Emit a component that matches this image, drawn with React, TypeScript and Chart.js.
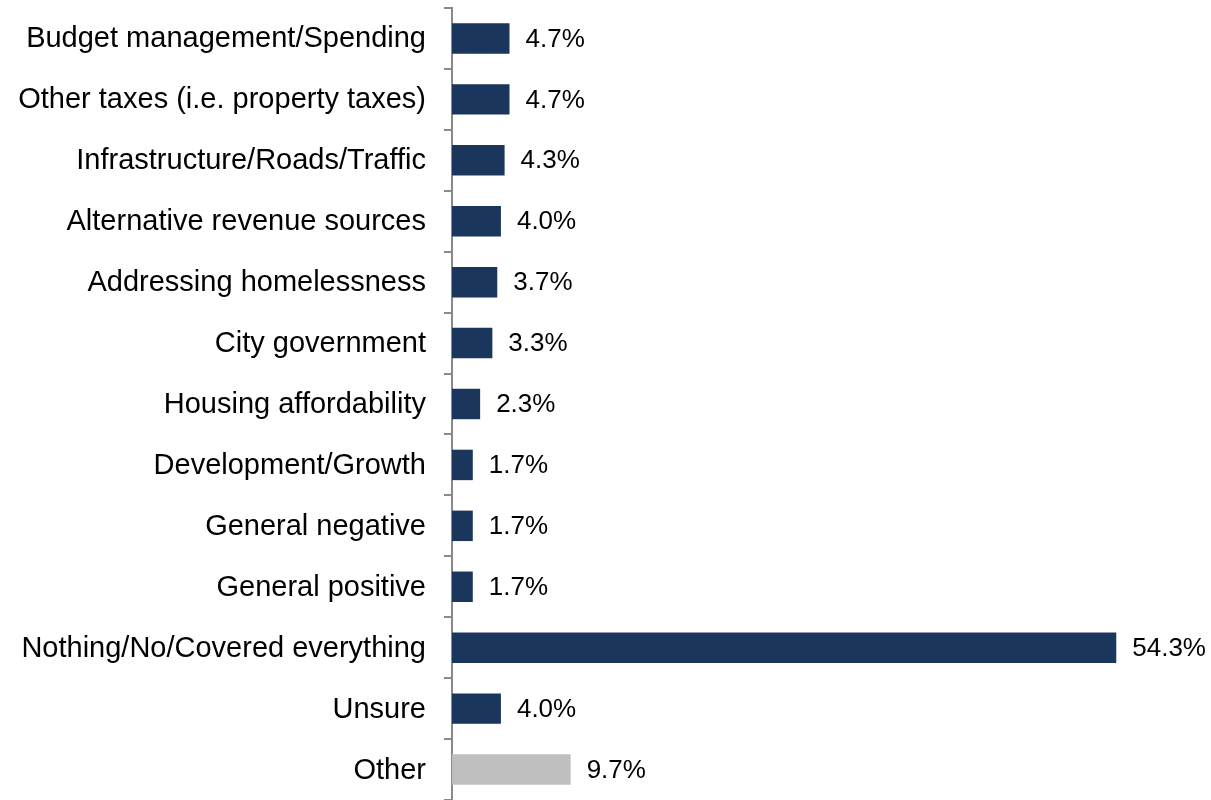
import React, { useEffect, useRef } from "react";
import { Chart, registerables } from "chart.js";

Chart.register(...registerables);

const categories = [
  "Budget management/Spending",
  "Other taxes (i.e. property taxes)",
  "Infrastructure/Roads/Traffic",
  "Alternative revenue sources",
  "Addressing homelessness",
  "City government",
  "Housing affordability",
  "Development/Growth",
  "General negative",
  "General positive",
  "Nothing/No/Covered everything",
  "Unsure",
  "Other",
];
const values = [4.7, 4.7, 4.3, 4.0, 3.7, 3.3, 2.3, 1.7, 1.7, 1.7, 54.3, 4.0, 9.7];
const barColors = [
  "#1B365D", "#1B365D", "#1B365D", "#1B365D", "#1B365D", "#1B365D", "#1B365D",
  "#1B365D", "#1B365D", "#1B365D", "#1B365D", "#1B365D", "#BFBFBF",
];

const FONT = "'Liberation Sans', Arial, sans-serif";

const valueLabels = {
  id: "valueLabels",
  afterDatasetsDraw(chart: any) {
    const ctx = chart.ctx;
    const meta = chart.getDatasetMeta(0);
    ctx.save();
    ctx.font = `26px ${FONT}`;
    ctx.fillStyle = "#000000";
    ctx.textAlign = "left";
    ctx.textBaseline = "middle";
    meta.data.forEach((bar: any, i: number) => {
      const v = chart.data.datasets[0].data[i] as number;
      ctx.fillText(v.toFixed(1) + "%", bar.x + 16, bar.y + 1);
    });
    ctx.restore();
  },
};

export default function App() {
  const ref = useRef<HTMLCanvasElement | null>(null);
  useEffect(() => {
    if (!ref.current) return;
    const chart = new Chart(ref.current, {
      type: "bar",
      data: {
        labels: categories,
        datasets: [
          {
            data: values,
            backgroundColor: barColors,
            barPercentage: 0.5,
            categoryPercentage: 1,
          },
        ],
      },
      options: {
        indexAxis: "y",
        animation: false,
        responsive: false,
        maintainAspectRatio: false,
        layout: { padding: { top: 8, bottom: -2, right: 25, left: 0 } },
        plugins: { legend: { display: false }, tooltip: { enabled: false } },
        scales: {
          x: { display: false, min: 0, max: 60 },
          y: {
            afterFit(scale: any) {
              scale.width = 452;
              scale.paddingTop = 0;
              scale.paddingBottom = 0;
            },
            border: { display: true, color: "#898989", width: 2 },
            grid: {
              offset: true,
              drawOnChartArea: false,
              drawTicks: true,
              tickLength: 8,
              color: "#898989",
              lineWidth: 2,
            },
            ticks: {
              color: "#000000",
              font: { family: FONT, size: 29 },
              padding: 18,
              labelOffset: 1,
            },
          },
        },
      },
      plugins: [valueLabels],
    });
    return () => chart.destroy();
  }, []);
  return (
    <div style={{ position: "absolute", left: 0, top: 0, width: 1211, height: 800, background: "#fff" }}>
      <canvas ref={ref} width={1211} height={800} style={{ width: 1211, height: 800 }} />
    </div>
  );
}
